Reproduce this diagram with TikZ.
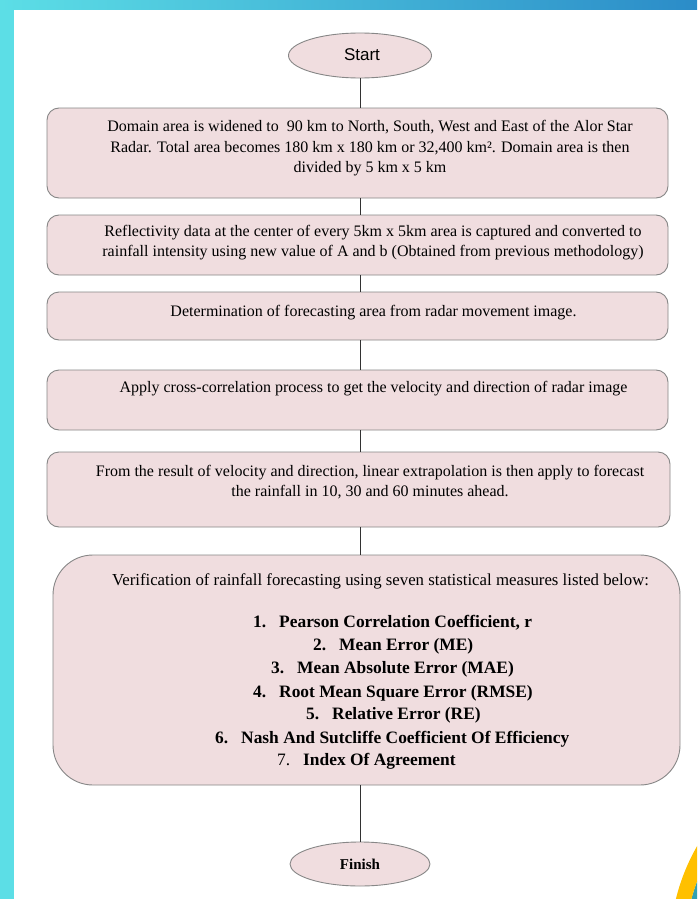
\documentclass[tikz,border=0pt]{standalone}
\usepackage{fontspec}
\setmainfont{Liberation Serif}
\newfontfamily\sansf{Liberation Sans}
\usetikzlibrary{shapes.geometric}
\definecolor{pinkbox}{RGB}{240,221,223}
\definecolor{edgegray}{RGB}{135,135,135}
\definecolor{cyanb}{RGB}{92,222,230}
\definecolor{blueb}{RGB}{43,140,200}
\definecolor{yellowc}{RGB}{255,192,0}
\definecolor{tealc}{RGB}{50,160,175}
\definecolor{linec}{RGB}{50,50,50}
\tikzset{
  box/.style={draw=edgegray, line width=0.9pt, fill=pinkbox, rounded corners=12pt, inner sep=0pt},
  term/.style={ellipse, draw=edgegray, line width=0.9pt, fill=pinkbox, inner sep=0pt},
  txt/.style={align=center, inner sep=0pt, font=\fontsize{16}{20.5}\selectfont},
  item/.style={anchor=base west, inner sep=0pt, font=\fontsize{17.4}{19}\selectfont\bfseries},
  conn/.style={draw=linec, line width=1pt}
}
\begin{document}
\begin{tikzpicture}[x=1pt,y=-1pt]
\useasboundingbox (0,0) rectangle (697,899);
\fill[white] (0,0) rectangle (697,899);
\fill[cyanb] (0,0) rectangle (14,899);
\shade[left color=cyanb, right color=blueb] (0,0) rectangle (697,10);
\begin{scope}
\clip (0,0) rectangle (697,899);
\fill[tealc] (875,948) circle[radius=190pt];
\draw[yellowc, line width=15pt] (875,948) circle[radius=197.5pt];
\end{scope}

\node[term, minimum width=143pt, minimum height=45pt] (s) at (360,55.5) {};
\node[inner sep=0pt, font=\sansf\fontsize{17}{20}\selectfont] (st) at (362,55) {Start};

\node[box, minimum width=621pt, minimum height=90pt] (b1) at (357.5,153) {};
\node[box, minimum width=621pt, minimum height=60pt] (b2) at (357.5,245) {};
\node[box, minimum width=621pt, minimum height=48pt] (b3) at (357.5,316) {};
\node[box, minimum width=621pt, minimum height=60pt] (b4) at (357.5,400) {};
\node[box, minimum width=623pt, minimum height=75pt] (b5) at (358.5,489.5) {};
\node[box, rounded corners=40pt, minimum width=627pt, minimum height=230pt] (b6) at (366.5,670) {};
\node[term, minimum width=140pt, minimum height=44pt] (f) at (360,864) {};

\node[txt] (t1) at (370,148.5) {Domain area is widened to~ 90 km to North, South, West and East of the Alor Star\\
Radar. Total area becomes 180 km x 180 km or 32,400 km². Domain area is then\\
divided by 5 km x 5 km};
\node[txt] (t2) at (373,242.5) {Reflectivity data at the center of every 5km x 5km area is captured and converted to\\
rainfall intensity using new value of A and b (Obtained from previous methodology)};
\node[txt] (t3) at (373.5,313) {Determination of forecasting area from radar movement image.};
\node[txt] (t4) at (373.5,389) {Apply cross-correlation process to get the velocity and direction of radar image};
\node[txt] (t5) at (370,482) {From the result of velocity and direction, linear extrapolation is then apply to forecast\\
the rainfall in 10, 30 and 60 minutes ahead.};
\node[txt, font=\fontsize{16.8}{20.5}\selectfont] (t6) at (380.5,581) {Verification of rainfall forecasting using seven statistical measures listed below:};

\node[item] (i1) at (253,627) {\makebox[26pt][l]{1.}Pearson Correlation Coefficient, r};
\node[item] (i2) at (313,650) {\makebox[26pt][l]{2.}Mean Error (ME)};
\node[item] (i3) at (271,673) {\makebox[26pt][l]{3.}Mean Absolute Error (MAE)};
\node[item] (i4) at (253,697) {\makebox[26pt][l]{4.}Root Mean Square Error (RMSE)};
\node[item] (i5) at (306,719) {\makebox[26pt][l]{5.}Relative Error (RE)};
\node[item] (i6) at (215,743) {\makebox[26pt][l]{6.}Nash And Sutcliffe Coefficient Of Efficiency};
\node[item] (i7) at (277,765) {\makebox[26pt][l]{\mdseries 7.}Index Of Agreement};

\node[inner sep=0pt, font=\fontsize{15}{18}\selectfont\bfseries] (ft) at (360,864) {Finish};

\draw[conn] (s.south) -- (s.south |- b1.north);
\draw[conn] (s.south |- b1.south) -- (s.south |- b2.north);
\draw[conn] (s.south |- b2.south) -- (s.south |- b3.north);
\draw[conn] (s.south |- b3.south) -- (s.south |- b4.north);
\draw[conn] (s.south |- b4.south) -- (s.south |- b5.north);
\draw[conn] (s.south |- b5.south) -- (s.south |- b6.north);
\draw[conn] (s.south |- b6.south) -- (f.north);
\end{tikzpicture}
\end{document}
